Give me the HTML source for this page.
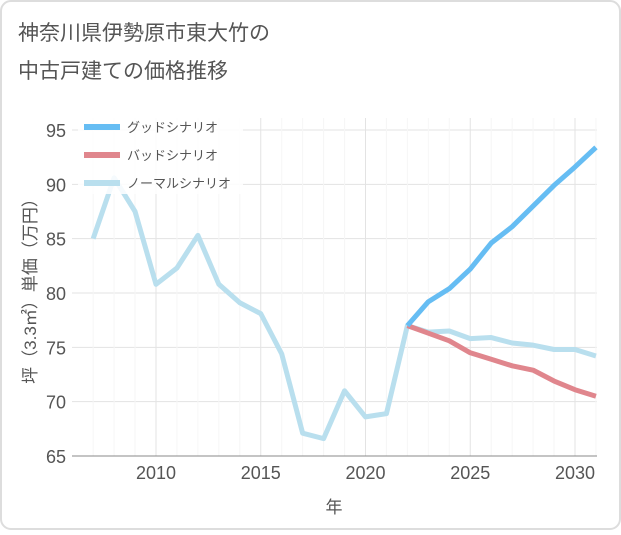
<!DOCTYPE html>
<html><head><meta charset="utf-8"><style>
body{margin:0;background:#fff;font-family:"Liberation Sans","Noto Sans CJK JP",sans-serif;}
#wrap{position:relative;width:621px;height:530px;}
</style></head><body>
<div id="wrap">
<svg id="chart" width="621" height="530" xmlns="http://www.w3.org/2000/svg">
<rect x="1" y="1" width="619" height="528" rx="10" fill="#fff" stroke="#ddd" stroke-width="2"/>
<text x="18" y="40" font-size="21" fill="#555">神奈川県伊勢原市東大竹の</text>
<text x="18" y="78" font-size="21" fill="#555">中古戸建ての価格推移</text>
<g id="grid"></g><g id="axes"></g><g id="series"></g><g id="legend"></g>
</svg>
</div>
<script>
const years=[2007,2008,2009,2010,2011,2012,2013,2014,2015,2016,2017,2018,2019,2020,2021,2022,2023,2024,2025,2026,2027,2028,2029,2030,2031];
const normal=[85,90.6,87.5,80.8,82.3,85.3,80.8,79.1,78.1,74.4,67.1,66.6,71,68.6,68.9,77,76.4,76.5,75.8,75.9,75.4,75.2,74.8,74.8,74.2];
const futureYears=[2022,2023,2024,2025,2026,2027,2028,2029,2030,2031];
const good=[77,79.2,80.4,82.2,84.6,86.1,88,89.9,91.6,93.4];
const bad=[77,76.3,75.6,74.5,73.9,73.3,72.9,71.9,71.1,70.5];
const yTicks=[65,70,75,80,85,90,95];
const xTicks=[2010,2015,2020,2025,2030];
const NS="http://www.w3.org/2000/svg";
const L=72,R=597,T=118,B=456;
const x=v=>156+(v-2010)*(575-156)/20;
const y=v=>456-(v-65)*(456-130)/30;
function mk(tag,attrs,parent){const e=document.createElementNS(NS,tag);for(const k in attrs)e.setAttribute(k,attrs[k]);parent.appendChild(e);return e;}
const grid=document.getElementById('grid'),axes=document.getElementById('axes'),ser=document.getElementById('series'),leg=document.getElementById('legend');
mk('rect',{x:L,y:T,width:R-L,height:B-T,fill:'#fff'},grid);
yTicks.forEach(t=>{const l=mk('line',{x1:L,x2:R,y1:y(t),y2:y(t),stroke:'#e3e3e3'},grid);

const tx=mk('text',{x:L-6,y:y(t)+7,'text-anchor':'end','font-size':'18',fill:'#555'},axes);tx.textContent=t;
});
for(let yr=2007;yr<=2031;yr++){const l=mk('line',{x1:x(yr),x2:x(yr),y1:T,y2:B,stroke:xTicks.includes(yr)?'#e3e3e3':'#f6f6f6'},grid);
}
xTicks.forEach(t=>{const tx=mk('text',{x:x(t),y:B+23,'text-anchor':'middle','font-size':'18',fill:'#555'},axes);tx.textContent=t;
});
const xl=mk('line',{x1:L,x2:R,y1:B,y2:B,stroke:'#888'},axes);
const xt=mk('text',{x:334,y:513,'text-anchor':'middle','font-size':'17',fill:'#555'},axes);xt.textContent='年';

const yt=mk('text',{x:0,y:0,transform:'translate(36,287) rotate(-90)','text-anchor':'middle','font-size':'17',fill:'#555'},axes);yt.textContent='坪（3.3㎡）単価（万円）';

function line(xs,vs,color,name){const d=xs.map((v,i)=>(i?'L':'M')+x(v)+','+y(vs[i])).join('');
const p=mk('path',{d:d,fill:'none',stroke:color,'stroke-width':'5','stroke-linejoin':'round'},ser);
}
line(years,normal,'#b9dfee','normal-scenario-line');
line(futureYears,bad,'#e0868d','bad-scenario-line');
line(futureYears,good,'#66bdf3','good-scenario-line');
const bg=mk('rect',{x:78,y:114,width:165,height:80,fill:'#fff','fill-opacity':'0.85'},leg);


const items=[['グッドシナリオ','#66bdf3'],['バッドシナリオ','#e0868d'],['ノーマルシナリオ','#b9dfee']];
items.forEach((it,i)=>{const yy=127+i*28;
const l=mk('line',{x1:84,x2:120,y1:yy,y2:yy,stroke:it[1],'stroke-width':'6'},leg);

const t=mk('text',{x:127,y:yy+5,'font-size':'13',fill:'#555'},leg);t.textContent=it[0];
});
</script>
</body></html>
